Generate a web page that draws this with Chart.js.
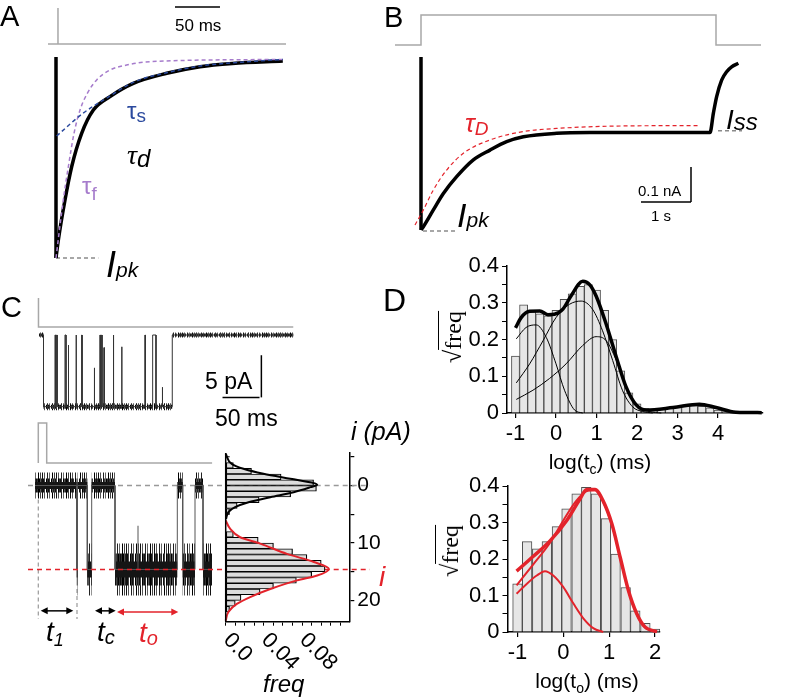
<!DOCTYPE html>
<html>
<head>
<meta charset="utf-8">
<script src="https://cdn.jsdelivr.net/npm/chart.js@4.4.1/dist/chart.umd.min.js"></script>
<style>
  body { margin: 0; background: #fff; }
  #fig { position: relative; width: 800px; height: 700px; overflow: hidden; background: #fff;
         font-family: "Liberation Sans", Arial, sans-serif; color: #000; }
  #fig canvas { position: absolute; }
  .t { position: absolute; line-height: 1; white-space: nowrap; }
</style>
</head>
<body>
<div id="fig"></div>
<script>
// ---------- panel A: whole-cell decay (current normalised to peak, time in ms)
const aTime = [0, 2.6, 10, 17.4, 28.5, 41.5, 60, 85.9, 123, 160, 196, 252];
const aCurrent = [-1, -0.91, -0.711, -0.546, -0.38, -0.264, -0.197, -0.131, -0.081, -0.048, -0.032, -0.020];
const aFastTime = [0, 8.1, 13.7, 20, 26.7, 34.8, 45.2, 60, 78.5, 104.4, 252];
const aFastCurrent = [-1, -0.711, -0.546, -0.38, -0.264, -0.181, -0.114, -0.065, -0.04, -0.023, -0.012];
const aSlowTime = [0.7, 30, 56, 85.9, 123, 160, 196, 252];
const aSlowCurrent = [-0.393, -0.280, -0.205, -0.126, -0.078, -0.045, -0.029, -0.012];
const aStimTime = [-8.9, 2.2, 2.2, 2.2, 255.6];
const aStimLevel = [0, 0, 1, 0, 0];
const aPeakMark = [0, 47];

// ---------- panel B: long pulse (nA, s)
const bTime = [0, 0.047, 0.247, 0.447, 0.713, 1.047, 1.38, 1.713, 2.047, 2.713, 3.38, 4.713, 5.78, 5.847, 5.913, 6.013, 6.113, 6.213, 6.347];
const bCurrent = [-0.494, -0.485, -0.437, -0.390, -0.342, -0.294, -0.266, -0.242, -0.228, -0.218, -0.216, -0.216, -0.216, -0.161, -0.113, -0.066, -0.042, -0.028, -0.018];
const bFitTime = [-0.12, 0.047, 0.247, 0.513, 0.847, 1.38, 2.047, 2.713, 4.047, 5.58];
const bFitCurrent = [-0.48, -0.437, -0.380, -0.323, -0.275, -0.237, -0.213, -0.204, -0.197, -0.196];
const bStimTime = [-0.52, 0, 0, 5.9, 5.9, 6.8];
const bStimLevel = [0, 0, 1, 1, 0, 0];
const bPeakMark = [0.04, 0.74];
const bSteadyMark = [5.94, 6.42];
const bPeak = -0.497, bSteady = -0.211;

// ---------- panel C (top): single channel, pA / ms
const cTopOpen = 6.1, cTopShut = 180.1, cTopEnd = 343.6, cTopAmp = 8.5;
const cTopGapTime = [21.6, 23.9, 35.1, 39.6, 50.0, 57.7, 74.7, 82.4, 84.7, 87.8, 100.4, 111.7, 143.2, 153.6, 166.6];
const cTopGapWidth = [0.8, 0.6, 1.4, 0.4, 0.5, 0.5, 0.4, 0.5, 0.5, 0.4, 0.5, 0.4, 0.5, 4.5, 0.4];
const cTopGapLevel = [0, 0, 0, 1.2, 0, 0, 3.9, 0, 0, 1.5, 0, 1.4, 0, 0, 6.2];

// ---------- panel C (bottom): idealised trace, pA / ms
const cLowStart = -1.65;
const cOpenStart = [19.2, 24.5, 38.35, 72.2, 82.35];
const cOpenEnd = [19.6, 26.7, 69.5, 78.35, 86.85];
const cUnit = 14.6;
const cArrowFrom = [1.2, 28.35, 39.35];
const cArrowTo = [17.5, 38.7, 70];
const cArrowAt = [21.8, 21.8, 22.0];

// amplitude histogram
const ampBins = [-3.5, -2.5, -1.5, -0.5, 0.5, 1.5, 2.5, 3.5, 4.5,
  8.5, 9.5, 10.5, 11.5, 12.5, 13.5, 14.5, 15.5, 16.5, 17.5, 18.5, 19.5, 20.5, 21.5];
const ampFreq = [0.008, 0.027, 0.058, 0.092, 0.095, 0.068, 0.035, 0.012, 0.004,
  0.008, 0.034, 0.05, 0.07, 0.085, 0.1, 0.104, 0.09, 0.074, 0.05, 0.036, 0.016, 0.01, 0.004];
const shutFitAmp = [-5.5, -3.77, -2.9, -2.03, -1.16, -0.41, -0.12, 0.29, 1.16, 2.03, 2.9, 3.77, 4.64, 5.8];
const shutFitFreq = [0, 0.0063, 0.0186, 0.0396, 0.0677, 0.0923, 0.0958, 0.0888, 0.0712, 0.0467, 0.0239, 0.0098, 0.0028, 0.0004];
const openFitAmp = [6.1, 7.5, 9.0, 10.1, 11.9, 13.3, 14.5, 15.65, 16.5, 18.0, 19.4, 20.6, 22.0, 23.5];
const openFitFreq = [0, 0.0046, 0.0151, 0.0361, 0.0642, 0.0923, 0.108, 0.0958, 0.0747, 0.0467, 0.0256, 0.0116, 0.0028, 0];
const freqTicks = [0, 0.04, 0.08];
const freqTickText = ['0.0', '0.04', '0.08'];

// ---------- panel D: dwell-time histograms (log ms, sqrt freq)
const shutBins = [-1.0, -0.8, -0.6, -0.4, -0.2, 0.0, 0.2, 0.4, 0.6, 0.8, 1.0, 1.2, 1.4, 1.6, 1.8, 2.0, 2.2, 2.4, 2.6, 2.8, 3.0, 3.2, 3.4, 3.6, 3.8, 4.0, 4.2];
const shutSqrtFreq = [0.155, 0.295, 0.28, 0.27, 0.265, 0.28, 0.31, 0.325, 0.345, 0.35, 0.335, 0.28, 0.2, 0.115, 0.055, 0.025, 0.012, 0.01, 0.012, 0.014, 0.016, 0.02, 0.02, 0.018, 0.014, 0.008, 0.004];
const shutTotX = [-1.0, -0.86, -0.65, -0.4, -0.2, -0.04, 0.17, 0.37, 0.66, 0.83, 0.99, 1.24, 1.49, 1.73, 1.98, 2.23, 2.89, 3.54, 3.95, 4.44, 5.08];
const shutTotY = [0.232, 0.26, 0.277, 0.278, 0.268, 0.269, 0.283, 0.319, 0.359, 0.35, 0.319, 0.242, 0.152, 0.071, 0.022, 0.008, 0.015, 0.024, 0.015, 0.002, 0.001];
const shutC1X = [-0.98, -0.74, -0.49, -0.24, 0.0, 0.21, 0.46, 0.66];
const shutC1Y = [0.202, 0.233, 0.24, 0.206, 0.134, 0.062, 0.008, 0];
const shutC2X = [-0.98, -0.65, -0.32, 0.0, 0.33, 0.62, 0.9, 1.15, 1.4, 1.64, 1.89, 2.14, 2.39];
const shutC2Y = [0.082, 0.134, 0.197, 0.26, 0.296, 0.305, 0.283, 0.224, 0.143, 0.062, 0.017, 0.004, 0];
const shutC3X = [-0.98, -0.57, -0.16, 0.25, 0.66, 0.99, 1.24, 1.49, 1.73, 1.98, 2.31, 2.6];
const shutC3Y = [0.037, 0.062, 0.094, 0.134, 0.184, 0.208, 0.197, 0.143, 0.071, 0.022, 0.004, 0];

const openBins = [-1.0, -0.79, -0.57, -0.36, -0.14, 0.07, 0.29, 0.5, 0.71, 0.93, 1.14, 1.36, 1.57, 1.79, 2.0];
const openSqrtFreq = [0.132, 0.248, 0.228, 0.248, 0.289, 0.338, 0.379, 0.397, 0.379, 0.311, 0.214, 0.122, 0.058, 0.024, 0.008];
const openTotX = [-1.02, -0.66, -0.29, 0.07, 0.36, 0.51, 0.69, 0.87, 1.06, 1.24, 1.42, 1.6, 1.78, 2.04];
const openTotY = [0.167, 0.207, 0.25, 0.305, 0.364, 0.391, 0.391, 0.359, 0.296, 0.205, 0.114, 0.051, 0.014, 0.001];
const openC1X = [-1.02, -0.8, -0.58, -0.4, -0.22, 0.0, 0.22, 0.44, 0.66, 0.87];
const openC1Y = [0.105, 0.132, 0.155, 0.167, 0.155, 0.123, 0.078, 0.037, 0.01, 0];
const openC2X = [-1.02, -0.66, -0.29, 0.0, 0.29, 0.55, 0.69, 0.87, 1.06, 1.24, 1.42, 1.6, 1.78, 2.04];
const openC2Y = [0.128, 0.185, 0.245, 0.306, 0.361, 0.388, 0.389, 0.357, 0.295, 0.204, 0.113, 0.05, 0.013, 0];

// ---------- helpers
Chart.defaults.font.family = '"Liberation Sans", Arial, sans-serif';
Chart.defaults.color = '#000';
const red = '#e3232b';
const fig = document.getElementById('fig');

function board(left, top, w, h) {
  const c = document.createElement('canvas');
  c.width = w; c.height = h;
  c.style.left = left + 'px'; c.style.top = top + 'px';
  fig.appendChild(c);
  return c;
}
// axis range that puts v0 on page pixel p0 and v1 on p1, for an axis running from pixel a to b
function span(v0, p0, v1, p1, a, b) {
  const k = (v1 - v0) / (p1 - p0);
  const lo = v0 + (a - p0) * k, hi = v0 + (b - p0) * k;
  return {min: Math.min(lo, hi), max: Math.max(lo, hi)};
}
const pts = (xs, ys) => xs.map((x, i) => ({x, y: ys[i]}));
function line(data, color, width, extra) {
  return Object.assign({type: 'line', data, borderColor: color, borderWidth: width,
    pointRadius: 0, tension: 0, fill: false, clip: false}, extra || {});
}
const smooth = {cubicInterpolationMode: 'monotone'};
const dash = {borderDash: [4, 3]};
function flats(from, to, level) {
  const out = [];
  from.forEach((f, i) => out.push({x: f, y: level}, {x: to[i], y: level}, {x: to[i], y: null}));
  return out;
}
// vertical striping used to fake recording noise on thick bands
function stripes(cols) {
  const p = document.createElement('canvas');
  p.width = cols.length; p.height = 1;
  const g = p.getContext('2d');
  cols.forEach((c, i) => { g.fillStyle = c; g.fillRect(i, 0, 1, 1); });
  return g.createPattern(p, 'repeat');
}
const clear = 'rgba(0,0,0,0)';
const sparse = stripes(['#111', clear, '#555', clear, clear, '#222', clear, '#666', clear, clear, '#000', clear, '#444', clear]);
const dense = stripes(['#111', '#333', clear, '#000', '#555', '#222', clear, '#111', '#444', clear, '#000', '#333']);

function bare(xr, yr, more) {
  return {
    responsive: false, devicePixelRatio: 1, animation: false,
    layout: {padding: 0},
    plugins: {legend: {display: false}, tooltip: {enabled: false}},
    scales: Object.assign({
      x: Object.assign({type: 'linear', display: false, offset: false}, xr),
      y: Object.assign({type: 'linear', display: false, offset: false}, yr)
    }, more || {})
  };
}
function seg(ctx, x0, y0, x1, y1) { ctx.beginPath(); ctx.moveTo(x0, y0); ctx.lineTo(x1, y1); ctx.stroke(); }

function text(html, x, base, size, css) {
  const d = document.createElement('div');
  d.className = 't';
  d.style.left = x + 'px';
  d.style.top = (base - 0.85 * size) + 'px';
  d.style.fontSize = size + 'px';
  if (css) d.style.cssText += css;
  d.innerHTML = html;
  fig.appendChild(d);
  return d;
}
const sub = (s, size, drop) => `<span style="font-size:${size}px;position:relative;top:${drop}px">${s}</span>`;

// ---------- A
new Chart(board(0, 0, 300, 290), {
  type: 'line',
  data: {datasets: [
    line(pts(aSlowTime, aSlowCurrent), '#2b4a9e', 1.5, Object.assign({order: 1}, dash, smooth)),
    line(pts(aFastTime, aFastCurrent), '#a67ccc', 1.5, Object.assign({order: 1}, dash, smooth)),
    line(pts(aTime, aCurrent), '#000', 3.5, Object.assign({order: 2}, smooth)),
    line(pts([0, 0], [0, -1]), '#000', 3.5, {order: 2}),
    line(pts(aPeakMark, [-1, -1]), '#8a8a8a', 1.5, Object.assign({order: 3}, dash)),
    line(pts(aStimTime, aStimLevel), '#a8a8a8', 1.5, {yAxisID: 'yv'})
  ]},
  options: bare(span(0, 56, 50, 101, 0, 300), span(0, 57, -1, 258, 0, 290),
    {yv: Object.assign({type: 'linear', display: false}, span(0, 44, 1, 8, 0, 290))}),
  plugins: [{id: 'barA', afterDatasetsDraw(c) {
    const ctx = c.ctx, x = c.scales.x, v = c.scales.yv;
    ctx.save(); ctx.strokeStyle = '#000'; ctx.lineWidth = 1.5;
    seg(ctx, x.getPixelForValue(132.2), v.getPixelForValue(1.03), x.getPixelForValue(182.2), v.getPixelForValue(1.03));
    ctx.restore();
  }}]
});

// ---------- B
new Chart(board(380, 0, 420, 250), {
  type: 'line',
  data: {datasets: [
    line(pts(bFitTime, bFitCurrent), red, 1.2, Object.assign({order: 1}, dash, smooth)),
    line(pts(bTime, bCurrent), '#000', 3.5, Object.assign({order: 2}, smooth)),
    line(pts([0, 0], [0, bCurrent[0]]), '#000', 3.5, {order: 2}),
    line(pts(bPeakMark, [bPeak, bPeak]), '#8a8a8a', 1.5, Object.assign({order: 3}, dash)),
    line(pts(bSteadyMark, [bSteady, bSteady]), '#8a8a8a', 1.5, Object.assign({order: 3}, dash)),
    line(pts(bStimTime, bStimLevel), '#a8a8a8', 1.5, {yAxisID: 'yv'})
  ]},
  options: bare(span(0, 421, 1, 471, 380, 800), span(0, 57, -0.1, 92, 0, 250),
    {yv: Object.assign({type: 'linear', display: false}, span(0, 45, 1, 15, 0, 250))}),
  plugins: [{id: 'barB', afterDatasetsDraw(c) {
    const ctx = c.ctx, x = c.scales.x, y = c.scales.y;
    ctx.save(); ctx.strokeStyle = '#000'; ctx.lineWidth = 1.5;
    const x0 = x.getPixelForValue(4.4), x1 = x.getPixelForValue(5.4);
    const y0 = y.getPixelForValue(-0.314), y1 = y.getPixelForValue(-0.414);
    seg(ctx, x0, y1, x1, y1); seg(ctx, x1, y0, x1, y1);
    ctx.restore();
  }}]
});

// ---------- C top
const cTopTrace = [{x: 0, y: 0}, {x: cTopOpen, y: 0}, {x: cTopOpen, y: cTopAmp}];
cTopGapTime.forEach((t, i) => {
  cTopTrace.push({x: t, y: cTopAmp}, {x: t, y: cTopGapLevel[i]},
    {x: t + cTopGapWidth[i], y: cTopGapLevel[i]}, {x: t + cTopGapWidth[i], y: cTopAmp});
});
cTopTrace.push({x: cTopShut, y: cTopAmp}, {x: cTopShut, y: 0}, {x: cTopEnd, y: 0});
new Chart(board(0, 280, 300, 150), {
  type: 'line',
  data: {datasets: [
    line(cTopTrace, '#333', 1, {order: 1}),
    line(flats([cTopOpen], [cTopShut], cTopAmp), dense, 4, {order: 2, borderCapStyle: 'butt'}),
    line(flats([cTopOpen], [cTopShut], cTopAmp), sparse, 7, {order: 3, borderCapStyle: 'butt'}),
    line(flats([0, cTopShut], [cTopOpen, cTopEnd], 0), dense, 3, {order: 2, borderCapStyle: 'butt'}),
    line(flats([0, cTopShut], [cTopOpen, cTopEnd], 0), sparse, 5, {order: 3, borderCapStyle: 'butt'}),
    line(pts([-0.7, -0.7, cTopEnd], [1, 0, 0]), '#a8a8a8', 1.5, {yAxisID: 'yv'})
  ]},
  options: bare(span(0, 39, 50, 76, 0, 300), Object.assign({reverse: true}, span(0, 335, 5, 377.15, 280, 430)),
    {yv: Object.assign({type: 'linear', display: false}, span(0, 327, 1, 298, 280, 430))}),
  plugins: [{id: 'barC', afterDatasetsDraw(c) {
    const ctx = c.ctx, x = c.scales.x, y = c.scales.y;
    ctx.save(); ctx.strokeStyle = '#000'; ctx.lineWidth = 1.5;
    const x0 = x.getPixelForValue(248), x1 = x.getPixelForValue(298), x2 = x.getPixelForValue(300.5);
    const y0 = y.getPixelForValue(2.4), y1 = y.getPixelForValue(7.4);
    seg(ctx, x0, y1, x1, y1); seg(ctx, x2, y0, x2, y1);
    ctx.restore();
  }}]
});

// ---------- C bottom trace
const shutFrom = [cLowStart].concat(cOpenEnd.slice(0, -1));
const shutTo = cOpenStart.slice();
const cLowTrace = [{x: cLowStart, y: 0}];
cOpenStart.forEach((s, i) => {
  cLowTrace.push({x: s, y: 0}, {x: s, y: cUnit}, {x: cOpenEnd[i], y: cUnit});
  if (i < cOpenStart.length - 1) cLowTrace.push({x: cOpenEnd[i], y: 0});
});
const lowX = span(0, 38.3, 1, 40.3, 0, 226);
const band = (from, to, level, color, width, order) =>
  line(flats(from, to, level), color, width, {order, borderCapStyle: 'butt'});
new Chart(board(0, 415, 226, 235), {
  type: 'line',
  data: {datasets: [
    line(pts([-5.15, lowX.max], [cUnit, cUnit]), red, 1.5, {order: 0, borderDash: [5, 4]}),
    line(cLowTrace, '#555', 1, {order: 3}),
    line(pts([49.85, 49.85], [cUnit, 7]), '#555', 1, {order: 3}),
    band(cOpenStart, cOpenEnd, cUnit, '#151515', 16, 4),
    band(cOpenStart, cOpenEnd, cUnit, dense, 32, 5),
    band(cOpenStart, cOpenEnd, cUnit, sparse, 52, 6),
    band(shutFrom, shutTo, 0, '#151515', 7, 4),
    band(shutFrom, shutTo, 0, dense, 14, 5),
    band(shutFrom, shutTo, 0, sparse, 26, 6),
    line(pts([-5.15, lowX.max], [0, 0]), '#999', 1.5, {order: 9, borderDash: [5, 4]}),
    line(pts([0, 0], [0, 23.2]), '#999', 1.2, Object.assign({order: 9}, dash)),
    line(pts([19.35, 19.35], [18, 23.2]), '#999', 1.2, Object.assign({order: 9}, dash)),
    line(pts([0, 0, 4.2, 4.2, 86.9], [0, 1, 1, 0, 0]), '#a8a8a8', 1.5, {yAxisID: 'yv'})
  ]},
  options: bare(lowX, Object.assign({reverse: true}, span(0, 485.5, 20, 600.5, 415, 650)),
    {yv: Object.assign({type: 'linear', display: false}, span(0, 463, 1, 423, 415, 650))}),
  plugins: [{id: 'arrows', afterDatasetsDraw(c) {
    const ctx = c.ctx, x = c.scales.x, y = c.scales.y;
    ctx.save(); ctx.lineWidth = 1.5;
    cArrowFrom.forEach((f, i) => {
      const col = i === 2 ? red : '#000';
      ctx.strokeStyle = col; ctx.fillStyle = col;
      const x0 = x.getPixelForValue(f), x1 = x.getPixelForValue(cArrowTo[i]), py = y.getPixelForValue(cArrowAt[i]);
      seg(ctx, x0 + 3, py, x1 - 3, py);
      [[x0, 1], [x1, -1]].forEach(([px, d]) => {
        ctx.beginPath(); ctx.moveTo(px, py); ctx.lineTo(px + 7 * d, py - 3.5); ctx.lineTo(px + 7 * d, py + 3.5); ctx.closePath(); ctx.fill();
      });
    });
    ctx.restore();
  }}]
});

// ---------- C amplitude histogram (rotated)
const histArea = {left: 225.7, right: 349.3, top: 453, bottom: 621.7};
new Chart(board(200, 430, 200, 270), {
  type: 'bar',
  data: {datasets: [
    line(pts(shutFitFreq, shutFitAmp), '#000', 2, Object.assign({order: 1}, smooth)),
    line(pts(openFitFreq, openFitAmp), red, 2, Object.assign({order: 1}, smooth)),
    {type: 'bar', data: pts(ampFreq, ampBins), backgroundColor: '#dcdcdc', borderColor: '#000',
      borderWidth: 1.2, borderSkipped: false, barPercentage: 1, categoryPercentage: 1, order: 3},
    line(pts([0, 0.151], [0, 0]), '#999', 1.5, {order: 5, borderDash: [5, 4]}),
    line(pts([0, 0.151], [cUnit, cUnit]), red, 1.5, {order: 5, borderDash: [5, 4]})
  ]},
  options: {
    responsive: false, devicePixelRatio: 1, animation: false, indexAxis: 'y',
    layout: {padding: {left: histArea.left - 200, top: histArea.top - 430, right: 0, bottom: 0}},
    plugins: {legend: {display: false}, tooltip: {enabled: false}},
    scales: {
      x: Object.assign({type: 'linear', offset: false, position: 'bottom',
        border: {display: true, color: '#000', width: 1.5},
        grid: {offset: false, drawOnChartArea: false, drawTicks: true, tickLength: 4, color: '#000', lineWidth: 1},
        ticks: {stepSize: 0.01, autoSkip: false, includeBounds: false, maxRotation: 0, callback: () => ''},
        afterFit: s => { s.height = 700 - histArea.bottom; }
      }, span(0, 225.7, 0.04, 263.9, histArea.left, histArea.right)),
      y: Object.assign({type: 'linear', offset: false, position: 'right', reverse: true,
        border: {display: true, color: '#000', width: 1.5},
        grid: {offset: false, drawOnChartArea: false, drawTicks: true, tickLength: 5, color: '#000', lineWidth: 1.2},
        ticks: {stepSize: 5, autoSkip: false, includeBounds: false, padding: 3, font: {size: 21},
          callback: v => (v >= 0 && v % 10 === 0) ? String(v) : ''},
        afterFit: s => { s.width = 400 - histArea.right; }
      }, span(0, 485.5, 20, 600.5, histArea.top, histArea.bottom))
    }
  },
  plugins: [{id: 'histDeco', afterDraw(c) {
    const ctx = c.ctx, ca = c.chartArea, x = c.scales.x, y = c.scales.y;
    ctx.save(); ctx.strokeStyle = '#000'; ctx.lineWidth = 1.5;
    seg(ctx, ca.left, ca.top, ca.left, ca.bottom);
    ctx.lineWidth = 1;
    y.ticks.forEach(t => { const py = y.getPixelForValue(t.value); seg(ctx, ca.left, py, ca.left + 4, py); });
    ctx.font = '22px "Liberation Sans", Arial, sans-serif';
    ctx.fillStyle = '#000'; ctx.textBaseline = 'middle'; ctx.textAlign = 'left';
    freqTicks.forEach((v, i) => {
      ctx.save(); ctx.translate(x.getPixelForValue(v) + 1, ca.bottom + 15); ctx.rotate(Math.PI / 4);
      ctx.fillText(freqTickText[i], 0, 0); ctx.restore();
    });
    ctx.restore();
  }}]
});

// ---------- D histograms
function dwellChart(left, top, w, h, area, xTicks, datasets) {
  new Chart(board(left, top, w, h), {
    type: 'bar',
    data: {datasets},
    options: {
      responsive: false, devicePixelRatio: 1, animation: false,
      layout: {padding: {left: 0, top: area.top - top, right: left + w - area.right, bottom: 0}},
      plugins: {legend: {display: false}, tooltip: {enabled: false}},
      scales: {
        x: Object.assign({type: 'linear', offset: false,
          border: {display: true, color: '#000', width: 1.5},
          grid: {offset: false, drawOnChartArea: false, drawTicks: true, tickLength: 5, lineWidth: 1.2,
            color: ctx => (ctx.tick && ctx.tick.value > xTicks.last) ? 'rgba(0,0,0,0)' : '#000'},
          ticks: {stepSize: 1, autoSkip: false, includeBounds: false, maxRotation: 0, padding: 3, font: {size: 22},
            callback: v => v <= xTicks.last ? String(v) : ''},
          afterFit: s => { s.height = top + h - area.bottom; }
        }, span(-1, xTicks.m1, xTicks.lastVal, xTicks.lastPx, area.left, area.right)),
        y: {type: 'linear', offset: false, min: 0, max: 0.4,
          border: {display: true, color: '#000', width: 1.5},
          grid: {drawOnChartArea: false, drawTicks: true, tickLength: 5, color: '#000', lineWidth: 1},
          ticks: {stepSize: 0.05, autoSkip: false, includeBounds: false, padding: 3, font: {size: 22},
            callback: v => Math.abs(v * 10 - Math.round(v * 10)) < 1e-6 ? String(Math.round(v * 10) / 10) : ''},
          afterFit: s => { s.width = area.left - left; }
        }
      }
    }
  });
}
const barStyle = {type: 'bar', backgroundColor: '#e6e6e6', borderColor: '#4d4d4d', borderWidth: 1,
  barPercentage: 1, categoryPercentage: 1, order: 5};

dwellChart(440, 250, 340, 230, {left: 507, right: 763, top: 265, bottom: 413},
  {m1: 515.5, lastVal: 4, lastPx: 718, last: 4}, [
    line(pts(shutTotX, shutTotY), '#000', 3.5, Object.assign({order: 1}, smooth)),
    line(pts(shutC1X, shutC1Y), '#000', 1, Object.assign({order: 2}, smooth)),
    line(pts(shutC2X, shutC2Y), '#000', 1, Object.assign({order: 2}, smooth)),
    line(pts(shutC3X, shutC3Y), '#000', 1, Object.assign({order: 2}, smooth)),
    Object.assign({data: pts(shutBins, shutSqrtFreq)}, barStyle)
  ]);
dwellChart(440, 470, 240, 230, {left: 507.5, right: 660, top: 485, bottom: 632},
  {m1: 517.5, lastVal: 2, lastPx: 655, last: 2}, [
    line(pts(openTotX, openTotY), red, 3.5, Object.assign({order: 1}, smooth)),
    line(pts(openC1X, openC1Y), red, 2, Object.assign({order: 2}, smooth)),
    line(pts(openC2X, openC2Y), red, 2, Object.assign({order: 2}, smooth)),
    Object.assign({data: pts(openBins, openSqrtFreq)}, barStyle)
  ]);

// ---------- text
const ital = 'font-style:italic;';
text('A', 0, 27, 29);
text('B', 384, 28, 29);
text('C', 1, 318, 29);
text('D', 383, 311, 32);
text('50 ms', 175, 31, 17);
text('τ' + sub('s', 19, 3), 127, 119, 24, 'color:#2b4a9e;');
text('<span style="font-family:\'Liberation Serif\',serif">τ</span>' + sub('d', 24, 3), 127, 165, 28, ital);
text('τ' + sub('f', 19, 6), 82, 194, 24, 'color:#a67ccc;');
text('I' + sub('pk', 21, 0), 106, 278, 36, ital);
text('τ' + sub('D', 19, 3), 465, 132, 26, ital + 'color:' + red + ';');
text('I' + sub('pk', 21, 0), 457, 227, 34, ital);
text('I' + sub('ss', 24, 1), 726, 130, 28, ital);
text('0.1 nA', 638, 196, 15);
text('1 s', 651, 221, 15);
text('5 pA', 205, 390, 23);
text('50 ms', 215, 427, 23);
text('i (pA)', 351, 440, 25, ital);
text('i', 379, 587, 28, ital + 'color:' + red + ';');
text('t' + sub('1', 18, 5), 46, 642, 28, ital);
text('t' + sub('c', 20, 3), 97, 642, 28, ital);
text('t' + sub('o', 20, 3), 139, 643, 28, ital + 'color:' + red + ';');
text('freq', 263, 692, 24, ital);
text('log(t' + sub('c', 14, 5) + ') (ms)', 600, 469, 21, 'transform:translateX(-50%);');
text('log(t' + sub('o', 14, 5) + ') (ms)', 587, 688, 21, 'transform:translateX(-50%);');
[[453, 337], [450, 551]].forEach(([cx, cy]) => {
  const d = text('√<span style="border-top:1.5px solid #000;padding-top:1px">freq</span>', cx, cy, 24,
    'font-family:"Liberation Serif",serif;transform:translate(-50%,-50%) rotate(-90deg);');
  d.style.top = cy + 'px';
});
</script>
</body>
</html>
